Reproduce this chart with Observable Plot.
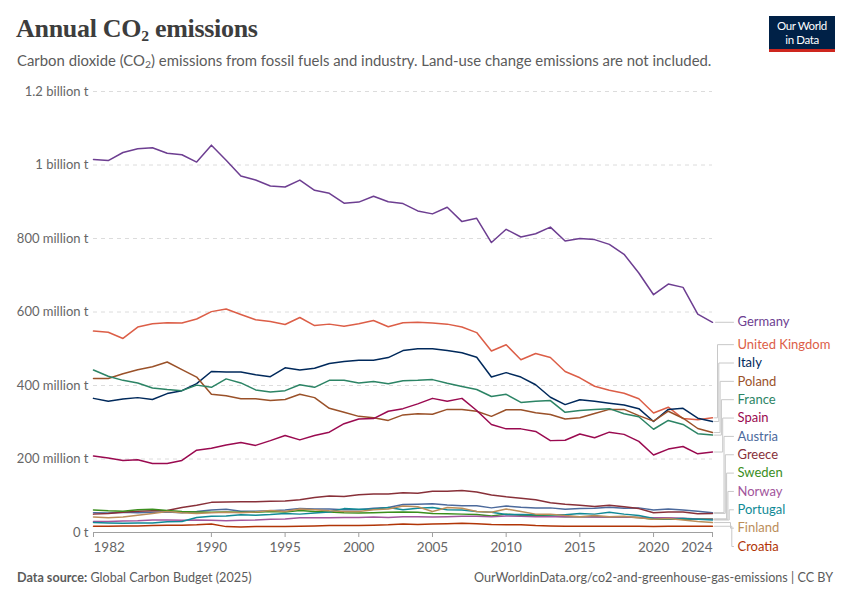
<!DOCTYPE html>
<html>
<head>
<meta charset="utf-8">
<script src="https://cdn.jsdelivr.net/npm/d3@7"></script>
<script src="https://cdn.jsdelivr.net/npm/@observablehq/plot@0.6"></script>
<style>
  body { margin: 0; background: #fff; font-family: Lato, "Noto Sans", sans-serif; }
  #wrap { position: relative; width: 850px; height: 600px; overflow: hidden; }
  #header { height: 75px; position: relative; }
  #title { position: absolute; left: 16px; top: 14px; font-family: "Liberation Serif", "DejaVu Serif", serif; font-weight: 700; font-size: 26px; color: #3d3d3d; letter-spacing: -0.3px; white-space: nowrap; }
  #title sub { font-size: 0.6em; vertical-align: -0.25em; line-height: 0; }
  #subtitle { position: absolute; left: 17px; top: 51px; font-size: 14.9px; color: #5b5b5b; white-space: nowrap; }
  #subtitle sub { font-size: 0.7em; vertical-align: -0.2em; line-height: 0; }
  #logo { position: absolute; left: 769px; top: 16px; width: 66px; background: #002147; border-bottom: 3px solid #ce261e; color: #fff; font-family: Lato, sans-serif; font-size: 11.5px; line-height: 14px; text-align: center; padding-top: 3px; height: 30px; letter-spacing: -0.4px; }
  #chart { position: absolute; left: 0; top: 75px; }
  #footer { position: absolute; left: 0; top: 568px; width: 850px; font-size: 12.6px; color: #5b5b5b; }
  #source { position: absolute; left: 17px; top: 2px; }
  #source b { font-weight: 700; color: #5b5b5b; }
  #url { position: absolute; right: 17px; top: 2px; }
</style>
</head>
<body>
<div id="wrap">
  <div id="header">
    <div id="title">Annual CO<sub>2</sub> emissions</div>
    <div id="subtitle">Carbon dioxide (CO<sub>2</sub>) emissions from fossil fuels and industry. Land-use change emissions are not included.</div>
    <div id="logo">Our World<br>in Data</div>
  </div>
  <div id="chart"></div>
  <div id="footer">
    <div id="source"><b>Data source:</b> Global Carbon Budget (2025)</div>
    <div id="url">OurWorldinData.org/co2-and-greenhouse-gas-emissions | CC BY</div>
  </div>
</div>
<script>
const years = d3.range(1982, 2025);

const countries = ["Germany", "United Kingdom", "Italy", "Poland", "France", "Spain", "Austria", "Greece", "Sweden", "Norway", "Portugal", "Finland", "Croatia"];
const colors = ["#6D3E91", "#DC5E47", "#00295B", "#9A5129", "#2C8465", "#9A0A50", "#4C6A9C", "#883039", "#3B8E1D", "#A2559C", "#108A96", "#BC8E5A", "#B13507"];

// Annual CO2 emissions, million tonnes, 1982–2024
const germany = [1015,1012,1034,1044,1047,1032,1028,1008,1054,1013,970,959,943,940,959,931,923,896,899,915,900,895,875,867,885,846,855,789,825,804,813,831,793,800,797,784,757,706,647,676,667,594,572];
const unitedKingdom = [548,545,528,559,568,571,570,581,601,608,593,579,574,566,585,563,567,561,568,577,560,571,572,570,567,559,544,494,511,470,487,476,438,421,398,387,379,364,325,341,310,307,312];
const italy = [365,357,363,367,362,378,386,405,438,437,437,429,424,448,442,447,460,465,469,469,476,495,500,500,495,489,477,423,435,423,402,368,348,361,357,352,347,337,302,335,338,311,302];
const poland = [419,419,432,443,451,464,443,423,376,372,364,364,359,362,376,367,338,327,316,312,305,320,323,322,335,335,330,316,334,334,326,321,309,312,324,335,335,318,303,330,311,283,272];
const france = [442,425,414,407,393,389,386,401,395,418,407,388,382,386,402,395,414,414,407,411,405,413,414,416,406,397,389,370,376,354,357,359,327,332,335,337,323,315,281,305,294,269,265];
const spain = [208,203,196,198,188,188,196,224,229,238,245,237,250,264,252,264,273,296,309,310,330,337,350,365,357,365,332,294,282,282,275,250,251,268,258,273,267,248,211,227,234,214,219];
const austria = [54,53,55,54,55,56,54,57,61,63,58,58,59,61,65,64,64,62,62,66,68,76,77,78,75,73,73,67,72,69,67,67,63,65,66,69,66,67,61,64,61,58,54];
const greece = [50,52,55,58,59,60,68,74,82,83,84,84,85,86,89,95,99,98,103,105,105,108,107,112,112,114,110,102,97,93,89,81,77,74,71,74,70,65,54,56,56,51,52];
const sweden = [61,59,58,62,63,60,57,56,55,56,55,55,57,56,60,57,56,54,53,54,55,56,55,52,51,50,49,45,50,47,46,45,43,43,43,42,42,41,36,37,36,37,37];
const norway = [30,30,31,32,34,34,33,34,33,32,33,34,36,37,40,40,40,41,41,42,41,43,43,42,43,44,44,43,45,44,43,43,43,43,42,42,42,41,40,40,39,37,36];
const portugal = [27,26,25,26,26,29,30,41,44,45,48,47,49,52,50,53,56,65,63,63,68,62,66,68,62,61,57,55,49,49,48,48,48,52,50,55,50,46,38,37,38,36,34];
const finland = [42,40,42,47,52,57,54,52,54,55,54,56,60,57,64,62,59,57,57,62,64,72,70,57,68,66,57,55,64,57,50,50,46,43,46,43,44,40,36,38,34,30,27];
const croatia = [17,17,18,18,19,20,20,21,23,16,15,16,16,16,17,18,19,19,19,20,21,23,22,23,24,25,24,22,21,21,19,18,17,17,17,17,17,17,16,17,17,17,17];

const series = [germany, unitedKingdom, italy, poland, france, spain, austria, greece, sweden, norway, portugal, finland, croatia];

const yTicks = [0, 200, 400, 600, 800, 1000, 1200];
const xTicksMid = [1990, 1995, 2000, 2005, 2010, 2015, 2020];

// table for the library
const rows = [];
countries.forEach((c, i) => years.forEach((y, j) => rows.push({country: c, year: y, value: series[i][j]})));

const W = 850, H = 492, mT = 16, mB = 35, mL = 93, mR = 138;
const xs = d3.scaleLinear([1982, 2024], [mL, W - mR]);
const ys = d3.scaleLinear([0, 1200], [H - mB, mT]);

// label layout (group and centre, bounded at bottom)
const spacing = 18.35, minY = mT, maxY = 471;
const last = years.length - 1;
const items = countries.map((c, i) => ({country: c, color: colors[i], end: series[i][last], nat: ys(series[i][last])}))
  .sort((a, b) => a.nat - b.nat);
let groups = items.map(d => ({items: [d]}));
function place(g) {
  const n = g.items.length;
  let top = d3.mean(g.items, d => d.nat) - (n - 1) * spacing / 2;
  top = Math.max(minY, Math.min(top, maxY - (n - 1) * spacing));
  g.top = top;
}
groups.forEach(place);
let changed = true;
while (changed) {
  changed = false;
  for (let i = 0; i < groups.length - 1; i++) {
    const a = groups[i], b = groups[i + 1];
    if (a.top + (a.items.length - 1) * spacing + spacing > b.top + 1e-6) {
      const g = {items: a.items.concat(b.items)};
      place(g);
      groups.splice(i, 2, g);
      changed = true;
      break;
    }
  }
}
groups.forEach(g => g.items.forEach((d, k) => d.pos = g.top + k * spacing));

const labels = [];
const connectors = [];
let moved = 0;
items.forEach(d => {
  labels.push({country: d.country, color: d.color, x: 2024, y: ys.invert(d.pos)});
  const x0 = xs.invert(W - mR + 2), x3 = xs.invert(W - mR + 21);
  if (Math.abs(d.pos - d.nat) < 1) {
    connectors.push({id: d.country, x: xs.invert(W - mR + 3), y: d.end}, {id: d.country, x: x3, y: d.end});
  } else {
    const bx = xs.invert(W - mR + 5 + moved * 1.3);
    moved++;
    connectors.push(
      {id: d.country, x: x0, y: d.end},
      {id: d.country, x: bx, y: d.end},
      {id: d.country, x: bx, y: ys.invert(d.pos)},
      {id: d.country, x: x3, y: ys.invert(d.pos)}
    );
  }
});

const fmtY = v => v === 0 ? "0 t" : v >= 1000 ? `${v / 1000} billion t` : `${v} million t`;

const plot = Plot.plot({
  width: W, height: H,
  marginTop: mT, marginBottom: mB, marginLeft: mL, marginRight: mR,
  style: {fontFamily: "Lato, sans-serif", fontSize: "13px", color: "#666", background: "#fff", overflow: "visible"},
  x: {domain: [1982, 2024]},
  y: {domain: [0, 1200]},
  color: {domain: countries, range: colors},
  marks: [
    Plot.ruleY(yTicks.filter(v => v > 0), {stroke: "#dcdcdc", strokeDasharray: "4,4", strokeWidth: 1}),
    Plot.axisY({ticks: yTicks, tickSize: 0, tickPadding: 5, tickFormat: fmtY, fill: "#666", label: null, fontSize: 13}),
    Plot.ruleY([0], {stroke: "#a0a0a0", strokeWidth: 1}),
    Plot.axisX({ticks: [1982], tickSize: 5, tickPadding: 5, tickFormat: d => String(d), textAnchor: "start", stroke: "#a0a0a0", fill: "#666", label: null, fontSize: 13.5}),
    Plot.axisX({ticks: xTicksMid, tickSize: 5, tickPadding: 5, tickFormat: d => String(d), stroke: "#a0a0a0", fill: "#666", label: null, fontSize: 13.5}),
    Plot.axisX({ticks: [2024], tickSize: 5, tickPadding: 5, tickFormat: d => String(d), textAnchor: "end", stroke: "#a0a0a0", fill: "#666", label: null, fontSize: 13.5}),
    Plot.line(connectors, {x: "x", y: "y", z: "id", stroke: "#c8c8c8", strokeWidth: 1}),
    Plot.line(rows, {x: "year", y: "value", z: "country", stroke: "country", strokeWidth: 1.5, strokeLinejoin: "round"}),
    Plot.text(labels, {x: "x", y: "y", text: "country", fill: "color", textAnchor: "start", dx: 25, fontSize: 13})
  ]
});
document.getElementById("chart").appendChild(plot);
</script>
</body>
</html>
